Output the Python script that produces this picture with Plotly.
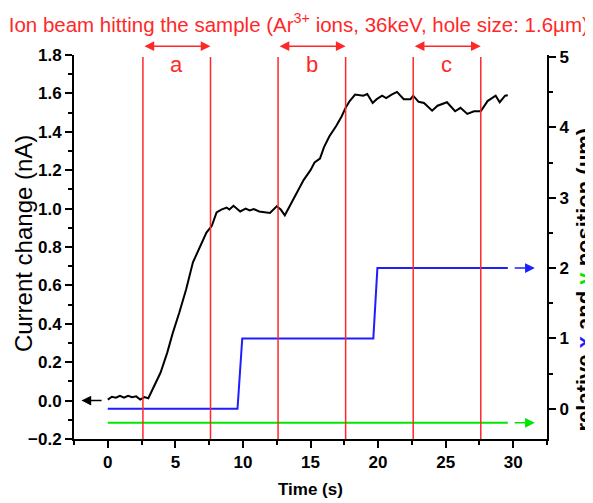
import plotly.graph_objects as go

# current change (nA) vs time (s)
time_s = [0.0, 0.3, 0.6, 0.9, 1.2, 1.5, 1.8, 2.1, 2.4, 2.7, 3.0, 3.4, 3.9, 4.4, 4.8,
          5.3, 5.8, 6.3, 6.8, 7.3, 7.7, 8.05, 8.4, 8.8, 9.0, 9.3, 9.8, 10.2, 10.5,
          10.8, 11.2, 11.7, 12.0, 12.5, 12.8, 13.1, 13.6, 14.0, 14.5, 15.0, 15.3,
          15.7, 16.0, 16.4, 16.9, 17.3, 17.6, 17.9, 18.3, 18.9, 19.2, 19.6, 19.9,
          20.3, 20.6, 21.0, 21.4, 21.9, 22.4, 22.6, 23.0, 23.4, 24.0, 24.4, 25.1,
          25.7, 26.1, 26.6, 27.1, 27.6, 28.1, 28.7, 29.0, 29.4, 29.6]
current_nA = [0.005, 0.02, 0.015, 0.025, 0.015, 0.025, 0.018, 0.022, 0.005, 0.018,
              0.012, 0.075, 0.145, 0.25, 0.35, 0.46, 0.58, 0.72, 0.80, 0.875, 0.91,
              0.98, 0.995, 1.005, 0.995, 1.015, 0.985, 1.0, 0.99, 0.998, 0.985, 0.98,
              0.977, 1.012, 0.995, 0.965, 1.03, 1.08, 1.15, 1.20, 1.24, 1.26, 1.32,
              1.377, 1.43, 1.48, 1.525, 1.56, 1.594, 1.588, 1.597, 1.55, 1.57, 1.588,
              1.576, 1.594, 1.608, 1.57, 1.57, 1.588, 1.556, 1.55, 1.51, 1.536, 1.554,
              1.507, 1.525, 1.493, 1.507, 1.507, 1.56, 1.588, 1.554, 1.588, 1.59]

# relative x position (um), stepped
x_pos_t = [0.0, 9.6, 9.95, 19.65, 19.95, 29.6]
x_pos_um = [0, 0, 1, 1, 2, 2]

# relative y position (um), constant
y_pos_t = [0.0, 29.6]
y_pos_um = [-0.2, -0.2]

# red marker lines and the a/b/c intervals
boundaries = [2.6, 7.6, 12.6, 17.6, 22.6, 27.6]
labels = ["a", "b", "c"]

RED = "rgb(255,40,40)"
BLUE = "rgb(30,30,255)"
GREEN = "rgb(0,230,0)"
FONT = "Liberation Sans, Arial, sans-serif"

fig = go.Figure()
fig.add_trace(go.Scatter(x=time_s, y=current_nA, mode="lines",
                         line=dict(color="black", width=2), showlegend=False))
fig.add_trace(go.Scatter(x=x_pos_t, y=x_pos_um, mode="lines", yaxis="y2",
                         line=dict(color=BLUE, width=2), showlegend=False))
fig.add_trace(go.Scatter(x=y_pos_t, y=y_pos_um, mode="lines", yaxis="y2",
                         line=dict(color=GREEN, width=2), showlegend=False))

for b in boundaries:
    fig.add_shape(type="line", xref="x", yref="y", x0=b, x1=b, y0=-0.2, y1=1.79,
                  line=dict(color=RED, width=1.5))

anns = []
for i, lab in enumerate(labels):
    x0, x1 = boundaries[2 * i], boundaries[2 * i + 1]
    anns.append(dict(x=x1, y=1.023, xref="x", yref="paper", ax=x0, ay=0,
                     axref="x", ayref="pixel", text="", showarrow=True,
                     arrowhead=2, arrowside="end+start", arrowsize=1.3,
                     arrowwidth=1.5, arrowcolor=RED))
    anns.append(dict(x=(x0 + x1) / 2, y=1.75, xref="x", yref="y", text=lab,
                     showarrow=False, xanchor="center", yanchor="middle",
                     font=dict(family=FONT, size=22, color=RED)))

# direction arrows pointing to the matching axis
anns.append(dict(x=-1.95, y=0, xref="x", yref="y", ax=-0.35, ay=0, axref="x",
                 ayref="pixel", text="", showarrow=True, arrowhead=2, arrowsize=1.3,
                 arrowwidth=1.5, arrowcolor="black"))
anns.append(dict(x=31.6, y=x_pos_um[-1], xref="x", yref="y2", ax=30.0, ay=0,
                 axref="x", ayref="pixel", text="", showarrow=True, arrowhead=2,
                 arrowsize=1.3, arrowwidth=1.5, arrowcolor=BLUE))
anns.append(dict(x=31.6, y=y_pos_um[-1], xref="x", yref="y2", ax=30.0, ay=0,
                 axref="x", ayref="pixel", text="", showarrow=True, arrowhead=2,
                 arrowsize=1.3, arrowwidth=1.5, arrowcolor=GREEN))

# axis titles
anns.append(dict(x=-0.108, y=0.51, xref="paper", yref="paper", textangle=-90,
                 xanchor="center", yanchor="middle",
                 text="Current change (nA)", showarrow=False,
                 font=dict(family=FONT, size=24, color="black")))
anns.append(dict(x=1.08, y=0.415, xref="paper", yref="paper", textangle=-90,
                 xanchor="center", yanchor="middle",
                 text=f"relative <span style='color:{BLUE}'>x</span> and "
                      f"<span style='color:{GREEN}'>y</span> position (µm)",
                 showarrow=False,
                 font=dict(family=FONT, size=22, color="black", weight="bold")))
anns.append(dict(x=0.5, y=-0.132, xref="paper", yref="paper", text="Time (s)",
                 showarrow=False, xanchor="center", yanchor="middle",
                 font=dict(family=FONT, size=17, color="black", weight="bold")))

tickfont = dict(family=FONT, size=17, color="black", weight="bold")

# page body adds an 8px margin, so the figure is 8px smaller than the window
fig.update_layout(
    width=585, height=495,
    margin=dict(l=66, r=46, t=47, b=64),
    plot_bgcolor="white", paper_bgcolor="white",
    title=dict(text="Ion beam hitting the sample (Ar<sup>3+</sup> ions, 36keV, hole size: 1.6µm)",
               x=0.497, xref="container", xanchor="center",
               y=0.967, yref="container", yanchor="middle",
               font=dict(family=FONT, size=20.5, color=RED)),
    xaxis=dict(range=[-2.5, 32.5], dtick=5, tick0=0, showgrid=False, zeroline=False,
               showline=True, linecolor="black", linewidth=2, ticks="outside",
               ticklen=7, tickwidth=2, tickcolor="black", tickfont=tickfont,
               minor=dict(dtick=2.5, ticks="outside", ticklen=4, tickwidth=2,
                          tickcolor="black")),
    yaxis=dict(range=[-0.2, 1.8], dtick=0.2, tick0=0, tickformat=".1f",
               showgrid=False, zeroline=False, showline=True, linecolor="black",
               linewidth=2, ticks="outside", ticklen=7, tickwidth=2,
               tickcolor="black", tickfont=tickfont,
               minor=dict(dtick=0.1, ticks="outside", ticklen=4, tickwidth=2,
                          tickcolor="black")),
    yaxis2=dict(range=[-0.43, 5.03], dtick=1, tick0=0, overlaying="y", side="right",
                showgrid=False, zeroline=False, showline=True, linecolor="black",
                linewidth=2, ticks="outside", ticklen=7, tickwidth=2,
                tickcolor="black", tickfont=tickfont,
                minor=dict(dtick=0.5, ticks="outside", ticklen=4, tickwidth=2,
                           tickcolor="black")),
    annotations=anns,
)

fig.write_html("out.html")
